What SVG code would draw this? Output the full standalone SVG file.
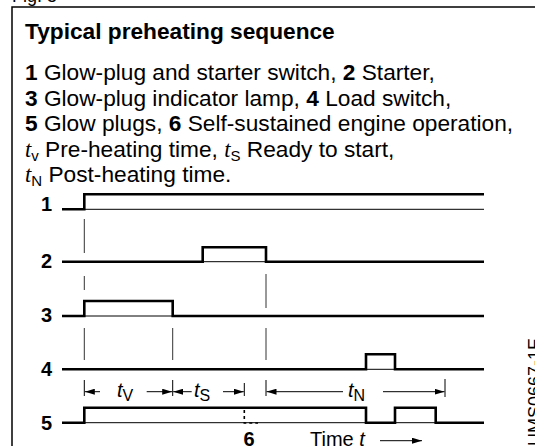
<svg xmlns="http://www.w3.org/2000/svg" width="535" height="446" viewBox="0 0 535 446">
<defs>
<style>
.txt{font-family:"Liberation Sans",Arial,sans-serif;fill:#000}
.b{font-weight:bold}
.ti{font-family:"Liberation Serif","Times New Roman",serif;font-style:italic}
.si{font-family:"Liberation Sans",Arial,sans-serif;font-style:italic}
.sig{fill:none;stroke:#000;stroke-width:2.6;stroke-linejoin:miter}
.base{fill:none;stroke:#000;stroke-width:1}
.guide{fill:none;stroke:#333;stroke-width:1}
.dim{fill:none;stroke:#000;stroke-width:1}
.dash{fill:none;stroke:#000;stroke-width:1.6;stroke-dasharray:3,3}
</style>
<marker id="ah" viewBox="0 0 10 6" refX="10" refY="3" markerWidth="10" markerHeight="6" markerUnits="userSpaceOnUse" orient="auto">
<path d="M0,0 L10,3 L0,6 Z" fill="#000"/>
</marker>
</defs>
<rect width="535" height="446" fill="#fff"/>
<text class="txt" x="12" y="2" font-size="18">Fig. 5</text>
<rect x="12" y="7" width="620" height="520" fill="none" stroke="#000" stroke-width="1.5"/>
<g id="legend" class="txt">
<text x="25" y="39" font-size="22.7" class="b">Typical preheating sequence</text>
<text x="25" y="80" font-size="22.7"><tspan class="b">1</tspan> Glow-plug and starter switch, <tspan class="b">2</tspan> Starter,</text>
<text x="25" y="106" font-size="22.7"><tspan class="b">3</tspan> Glow-plug indicator lamp, <tspan class="b">4</tspan> Load switch,</text>
<text x="25" y="131" font-size="22.7"><tspan class="b">5</tspan> Glow plugs, <tspan class="b">6</tspan> Self-sustained engine operation,</text>
<text x="25" y="157" font-size="22.7"><tspan class="ti">t</tspan><tspan font-size="15" dy="4">v</tspan><tspan dy="-4"> Pre-heating time, </tspan><tspan class="ti">t</tspan><tspan font-size="15" dy="4">S</tspan><tspan dy="-4"> Ready to start,</tspan></text>
<text x="25" y="182" font-size="22.7"><tspan class="ti">t</tspan><tspan font-size="15" dy="4">N</tspan><tspan dy="-4"> Post-heating time.</tspan></text>
</g>
<g id="labels" class="txt b" font-size="20" text-anchor="end">
<text x="52" y="211">1</text>
<text x="52" y="268">2</text>
<text x="52" y="322">3</text>
<text x="52" y="376">4</text>
<text x="52" y="430">5</text>
</g>
<g id="signal1">
<path class="sig" d="M62,209.3 H84.3 V194.3 H484"/>
<path class="base" d="M84.3,209.3 H484"/>
</g>
<g id="signal2">
<path class="sig" d="M62,261.7 H202.7 V247.3 H266 V261.7 H484"/>
<path class="base" d="M202.7,261.7 H266"/>
</g>
<g id="signal3">
<path class="sig" d="M62,316 H84.3 V301 H172.7 V316 H484"/>
<path class="base" d="M84.3,316 H172.7"/>
</g>
<g id="signal4">
<path class="sig" d="M62,369.3 H366 V354.3 H395 V369.3 H484"/>
<path class="base" d="M366,369.3 H395"/>
</g>
<g id="signal5">
<path class="sig" d="M62,422.7 H84.3 V407.7 H366 V422.7 H395 V407.7 H435.7 V422.7 H484"/>
<path class="base" d="M84.3,422.7 H366 M395,422.7 H435.7"/>
</g>
<g id="connectors">
<path class="guide" d="M84.3,219 V253 M84.3,276 V290 M84.3,328 V360 M172.7,328 V360 M266,274 V308 M266,328 V360"/>
<path class="dim" d="M84.3,380 V396 M172.7,380 V396 M244.3,383 V396 M266,380 V396 M445,379 V397"/>
<path class="dim" d="M100,391.7 H84.8" marker-end="url(#ah)"/>
<path class="dim" d="M146.7,391.7 H172.2" marker-end="url(#ah)"/>
<path class="dim" d="M191.7,391.7 H173.2" marker-end="url(#ah)"/>
<path class="dim" d="M223,391.7 H243.8" marker-end="url(#ah)"/>
<path class="dim" d="M343,391.7 H266.5" marker-end="url(#ah)"/>
<path class="dim" d="M383,391.7 H444.5" marker-end="url(#ah)"/>
<path class="dash" d="M244.3,410 V423 H258"/>
<path class="dim" d="M380,440.7 H422" marker-end="url(#ah)"/>
</g>
<g id="dimlabels" class="txt" font-size="20">
<text x="117" y="397"><tspan class="si">t</tspan><tspan font-size="16" dy="4">V</tspan></text>
<text x="194" y="397"><tspan class="si">t</tspan><tspan font-size="16" dy="4">S</tspan></text>
<text x="348" y="397"><tspan class="si">t</tspan><tspan font-size="16" dy="4">N</tspan></text>
<text x="249" y="446" text-anchor="middle" class="b">6</text>
<text x="310" y="446">Time <tspan class="si">t</tspan></text>
</g>
<text class="txt" font-size="18" transform="translate(541,446) rotate(-90)">UMS0667-1E</text>
</svg>
